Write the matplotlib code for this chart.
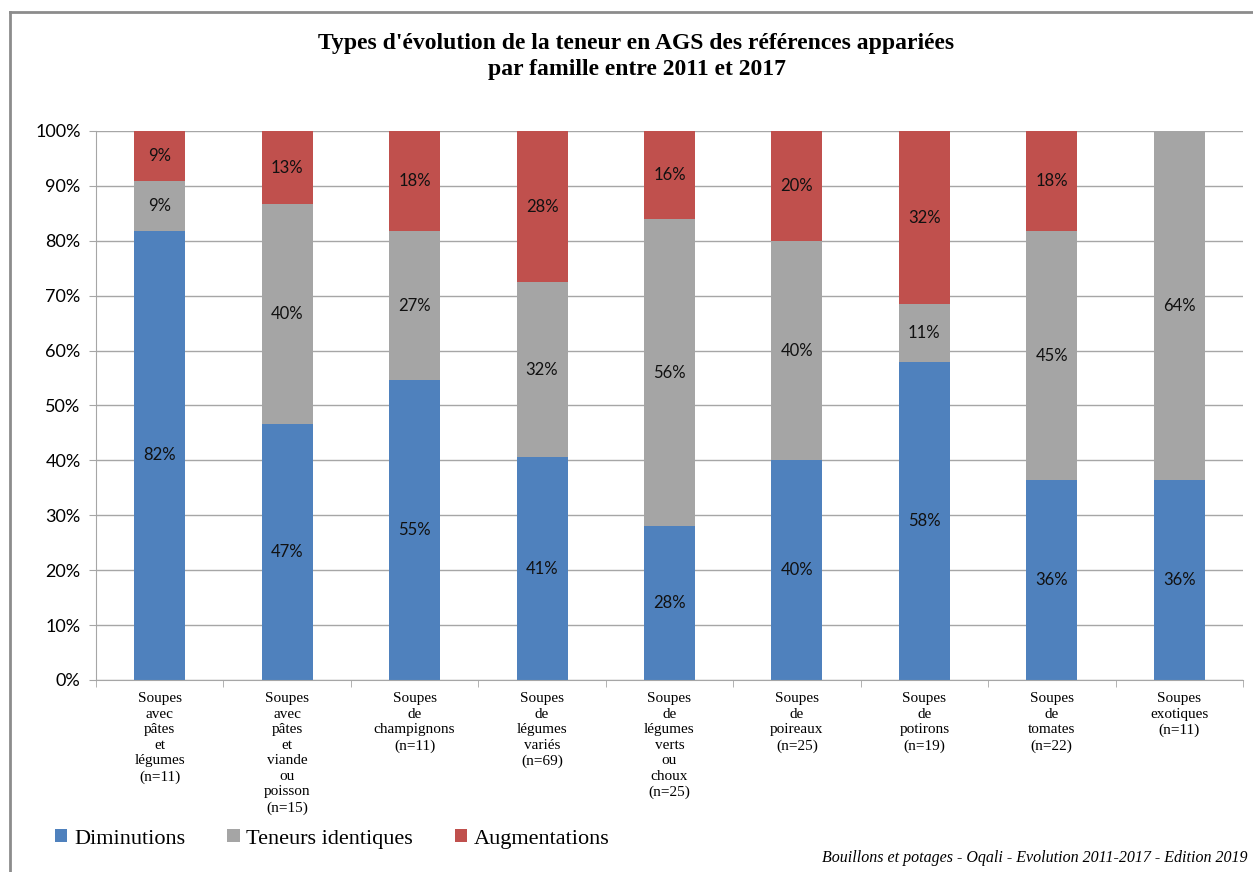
import matplotlib
matplotlib.use('Agg')
import matplotlib.pyplot as plt
import numpy as np

# categories and shares (%)
categories = [
    "Soupes\navec\npâtes\net\nlégumes\n(n=11)",
    "Soupes\navec\npâtes\net\nviande\nou\npoisson\n(n=15)",
    "Soupes\nde\nchampignons\n(n=11)",
    "Soupes\nde\nlégumes\nvariés\n(n=69)",
    "Soupes\nde\nlégumes\nverts\nou\nchoux\n(n=25)",
    "Soupes\nde\npoireaux\n(n=25)",
    "Soupes\nde\npotirons\n(n=19)",
    "Soupes\nde\ntomates\n(n=22)",
    "Soupes\nexotiques\n(n=11)",
]
diminutions = [81.82, 46.67, 54.55, 40.58, 28.0, 40.0, 57.89, 36.36, 36.36]
identiques = [9.09, 40.0, 27.27, 31.88, 56.0, 40.0, 10.53, 45.45, 63.64]
augmentations = [9.09, 13.33, 18.18, 27.54, 16.0, 20.0, 31.58, 18.18, 0.0]

series = [
    ("Diminutions", diminutions, '#4f81bd'),
    ("Teneurs identiques", identiques, '#a5a5a5'),
    ("Augmentations", augmentations, '#c0504d'),
]

serif = 'Liberation Serif'
sans = 'Lato'

fig = plt.figure(figsize=(12.53, 8.72), dpi=100)
ax = fig.add_axes([0.0766, 0.2202, 0.9154, 0.6296])

x = np.arange(len(categories))
bottom = np.zeros(len(categories))
handles = []
for name, vals, color in series:
    vals = np.array(vals)
    bars = ax.bar(x, vals, 0.4, bottom=bottom, color=color, label=name, zorder=2)
    handles.append(bars)
    for xi, b, v in zip(x, bottom, vals):
        if v > 0:
            ax.text(xi, b + v / 2, f"{v:.0f}%", ha='center', va='center',
                    fontsize=12, family=sans, color='#111111', zorder=3)
    bottom += vals

ax.set_xlim(-0.5, len(categories) - 0.5)
ax.set_ylim(0, 100)
ax.set_yticks(np.arange(0, 101, 10))
ax.set_yticklabels([f"{t}%" for t in range(0, 101, 10)], family=sans, fontsize=13)
ax.yaxis.grid(True, color='#a6a6a6', linewidth=1, zorder=0)
ax.set_axisbelow(True)

ax.set_xticks(x)
ax.set_xticklabels(categories, family=serif, fontsize=11, linespacing=1.25,
                   va='top')
ax.tick_params(axis='x', which='major', length=0, pad=9)
ax.set_xticks(np.arange(-0.5, len(categories), 1), minor=True)
ax.tick_params(axis='x', which='minor', length=5, color='#a6a6a6', direction='out')
ax.tick_params(axis='y', length=5, color='#a6a6a6', direction='out', pad=6)

for s in ['top', 'right']:
    ax.spines[s].set_visible(False)
for s in ['left', 'bottom']:
    ax.spines[s].set_color('#a6a6a6')

fig.text(0.508, 0.950, "Types d'évolution de la teneur en AGS des références appariées",
         ha='center', va='center', fontsize=17, fontweight='bold', family=serif)
fig.text(0.508, 0.920, "par famille entre 2011 et 2017",
         ha='center', va='center', fontsize=17, fontweight='bold', family=serif)

fig.legend(handles=handles, loc='center left', bbox_to_anchor=(0.028, 0.038),
           ncol=3, frameon=False, prop={'family': serif, 'size': 16},
           handlelength=0.55, handleheight=0.55, handletextpad=0.3, columnspacing=1.9)

fig.text(0.996, 0.016, "Bouillons et potages - Oqali - Evolution 2011-2017 - Edition 2019",
         ha='right', va='center', fontsize=11.5, style='italic', family=serif)

# outer frame (only left and top edges visible in the crop)
fig.add_artist(plt.Line2D([0.0078, 0.0078], [0, 0.986], transform=fig.transFigure,
                          color='#8c8c8c', linewidth=2))
fig.add_artist(plt.Line2D([0.0078, 1], [0.986, 0.986], transform=fig.transFigure,
                          color='#8c8c8c', linewidth=2))

fig.savefig('out.png', dpi=100)
